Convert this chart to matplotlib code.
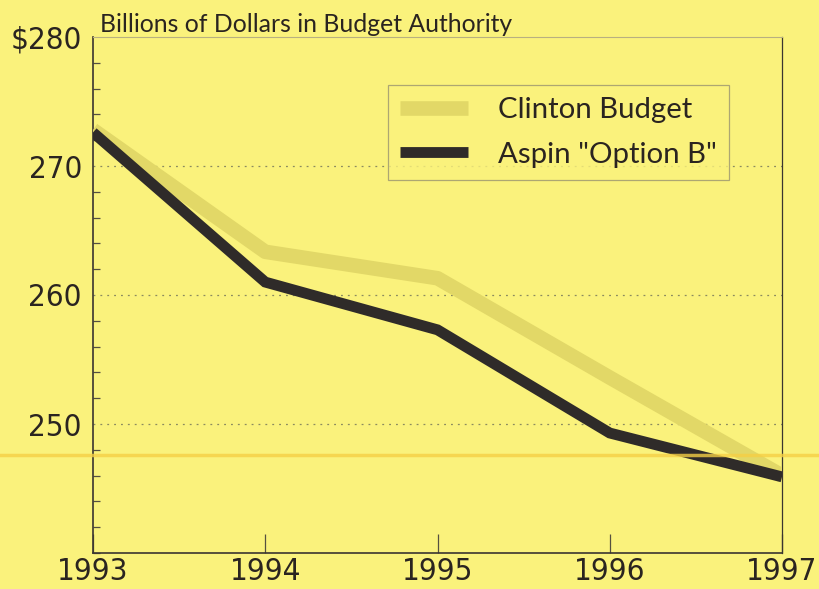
import matplotlib
matplotlib.use("Agg")
import matplotlib.pyplot as plt
from matplotlib import font_manager as fm
from matplotlib.ticker import MultipleLocator, FixedLocator
from matplotlib.lines import Line2D

years = [1993, 1994, 1995, 1996, 1997]
clinton = [272.8, 263.35, 261.3, 253.6, 246.0]
aspin = [272.6, 261.0, 257.3, 249.3, 245.9]
series_names = ["Clinton Budget", 'Aspin "Option B"']
ytick_vals = [250, 260, 270, 280]
ytick_labels = ["250", "260", "270", "$280"]
title = "Billions of Dollars in Budget Authority"

BG = "#FAF27C"
INK = "#2a2420"
plt.rcParams['font.family'] = ['Lato', 'DejaVu Sans']

# pick a condensed face if one is installed
narrow_file = None
for f in fm.fontManager.ttflist:
    fn = f.fname.lower()
    if ("narrow" in fn or "condensed" in fn) and "bold" not in fn and "oblique" not in fn and "italic" not in fn:
        narrow_file = f.fname
        break

if narrow_file:
    tick_font = fm.FontProperties(fname=narrow_file, size=22.5)
else:
    tick_font = fm.FontProperties(family=['Lato', 'DejaVu Sans'], size=20)

fig = plt.figure(figsize=(8.2, 5.89), dpi=100, facecolor=BG)
ax = fig.add_axes([93/820, 1-553/589, (782-93)/820, (553-37)/589])
ax.set_facecolor(BG)

ax.plot(years, clinton, color="#E2D867", lw=10.5, solid_capstyle='butt',
        solid_joinstyle='round', zorder=3, label=series_names[0])
ax.plot(years, aspin, color="#2F2B29", lw=7.8, solid_capstyle='butt',
        solid_joinstyle='miter', zorder=4, label=series_names[1])

ax.set_xlim(1993, 1997)
ax.set_ylim(240, 280)
ax.set_xticks(years)
ax.set_xticklabels([str(y) for y in years], fontproperties=tick_font, color=INK)
ax.yaxis.set_major_locator(FixedLocator(ytick_vals))
ax.set_yticklabels(ytick_labels, fontproperties=tick_font, color=INK)
ax.yaxis.set_minor_locator(MultipleLocator(2))

for v in [250, 260, 270]:
    ax.axhline(v, color="#8a8a60", lw=0.9, ls=(0, (1.5, 4)), zorder=1)

ax.tick_params(axis='x', direction='in', length=14, width=0.9, color="#555040", pad=3)
ax.tick_params(axis='y', which='major', direction='in', length=0, pad=8)
ax.tick_params(axis='y', which='minor', direction='in', length=5, width=0.9,
               color="#555040")

for s in ['left', 'bottom']:
    ax.spines[s].set_color("#3a3530")
    ax.spines[s].set_linewidth(1.2)
ax.spines['right'].set_color("#3a3530")
ax.spines['right'].set_linewidth(0.9)
ax.spines['top'].set_color("#b8b080")
ax.spines['top'].set_linewidth(0.8)

fig.text(100/820, 1-24/589, title, fontsize=17.8, color=INK,
         va='center', ha='left')

leg = ax.legend(loc='upper left', bbox_to_anchor=(388/820, 1-85/589),
                bbox_transform=fig.transFigure,
                fontsize=21.2, frameon=True, handlelength=2.3, handletextpad=1.0,
                borderpad=0.42, labelspacing=0.62, fancybox=False,
                borderaxespad=0)
leg.get_frame().set_facecolor(BG)
leg.get_frame().set_edgecolor("#9a9470")
leg.get_frame().set_linewidth(0.9)
for t in leg.get_texts():
    t.set_color(INK)

# scanner streak across the page
fig.add_artist(Line2D([0, 1], [1-455/589, 1-455/589], transform=fig.transFigure,
                      color="#F5CF45", lw=2.5, alpha=0.8, zorder=0.5))

fig.savefig("out.png", dpi=100, facecolor=BG)
